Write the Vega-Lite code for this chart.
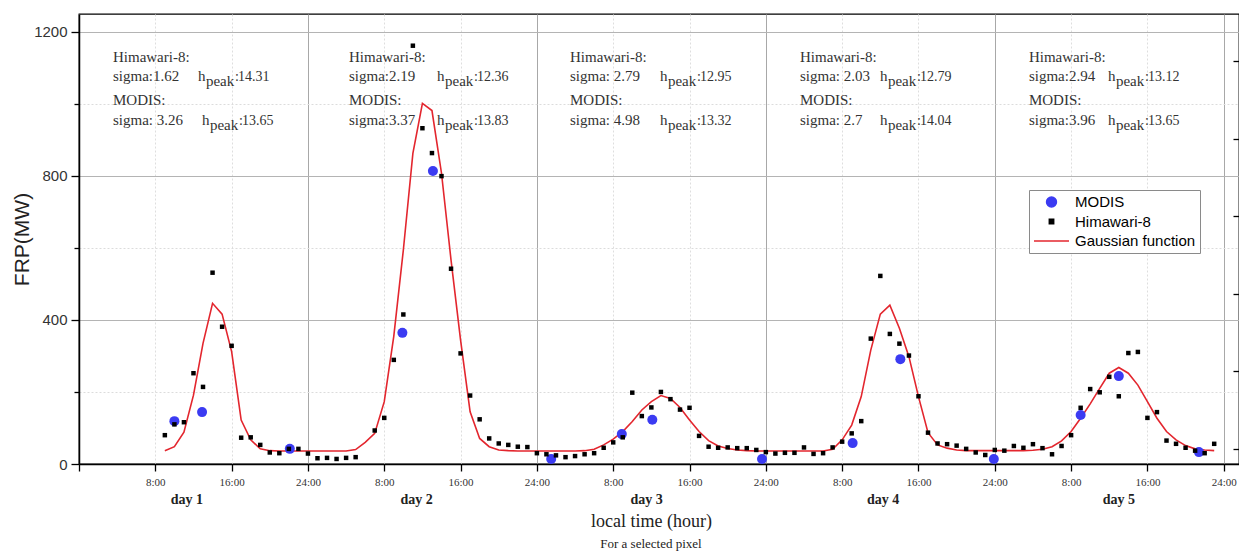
{
  "$schema": "https://vega.github.io/schema/vega-lite/v6.json",
  "width": 1160,
  "height": 450,
  "autosize": {"type": "none"},
  "padding": {"left": 79, "top": 14, "right": 0, "bottom": 90},
  "background": "white",
  "title": {"text": "For a selected pixel", "orient": "bottom", "anchor": "middle", "frame": "group", "font": "Liberation Serif", "fontSize": 13, "fontWeight": "normal", "color": "#222", "offset": 8, "dx": -8},
  "config": {
    "view": {"stroke": "#000", "strokeWidth": 1.3},
    "legend": {"title": null, "orient": "none", "legendX": 950, "legendY": 176, "symbolStrokeWidth": 1.4, "clipHeight": 16,
      "labelFont": "Liberation Sans", "labelFontSize": 15, "labelColor": "#000", "labelOffset": 5,
      "padding": 4, "rowPadding": 3.5, "strokeColor": "#8a8a8a", "fillColor": "#ffffff", "symbolOpacity": 1}
  },
  "resolve": {"axis": {"x": "independent", "y": "independent"}, "legend": {"color": "independent"}},
  "datasets": {
    "fit": [
      {"series":"Gaussian function","hour":9,"frp":37},{"series":"Gaussian function","hour":10,"frp":48},{"series":"Gaussian function","hour":11,"frp":88},{"series":"Gaussian function","hour":12,"frp":191},{"series":"Gaussian function","hour":13,"frp":335},{"series":"Gaussian function","hour":14,"frp":446},{"series":"Gaussian function","hour":15,"frp":416},{"series":"Gaussian function","hour":16,"frp":312},{"series":"Gaussian function","hour":17,"frp":122},{"series":"Gaussian function","hour":18,"frp":67},{"series":"Gaussian function","hour":19,"frp":42},{"series":"Gaussian function","hour":20,"frp":37},{"series":"Gaussian function","hour":21,"frp":36},{"series":"Gaussian function","hour":22,"frp":36},{"series":"Gaussian function","hour":23,"frp":36},{"series":"Gaussian function","hour":24,"frp":36},{"series":"Gaussian function","hour":25,"frp":36},{"series":"Gaussian function","hour":26,"frp":36},{"series":"Gaussian function","hour":27,"frp":36},{"series":"Gaussian function","hour":28,"frp":36},{"series":"Gaussian function","hour":29,"frp":40},{"series":"Gaussian function","hour":30,"frp":60},{"series":"Gaussian function","hour":31,"frp":85},{"series":"Gaussian function","hour":32,"frp":173},{"series":"Gaussian function","hour":33,"frp":355},{"series":"Gaussian function","hour":34,"frp":594},{"series":"Gaussian function","hour":35,"frp":862},{"series":"Gaussian function","hour":36,"frp":1001},{"series":"Gaussian function","hour":37,"frp":981},{"series":"Gaussian function","hour":38,"frp":807},{"series":"Gaussian function","hour":39,"frp":566},{"series":"Gaussian function","hour":40,"frp":344},{"series":"Gaussian function","hour":41,"frp":145},{"series":"Gaussian function","hour":42,"frp":71},{"series":"Gaussian function","hour":43,"frp":48},{"series":"Gaussian function","hour":44,"frp":39},{"series":"Gaussian function","hour":45,"frp":37},{"series":"Gaussian function","hour":46,"frp":36},{"series":"Gaussian function","hour":47,"frp":36},{"series":"Gaussian function","hour":48,"frp":36},{"series":"Gaussian function","hour":49,"frp":36},{"series":"Gaussian function","hour":50,"frp":36},{"series":"Gaussian function","hour":51,"frp":36},{"series":"Gaussian function","hour":52,"frp":36},{"series":"Gaussian function","hour":53,"frp":37},{"series":"Gaussian function","hour":54,"frp":41},{"series":"Gaussian function","hour":55,"frp":53},{"series":"Gaussian function","hour":56,"frp":69},{"series":"Gaussian function","hour":57,"frp":90},{"series":"Gaussian function","hour":58,"frp":118},{"series":"Gaussian function","hour":59,"frp":150},{"series":"Gaussian function","hour":60,"frp":173},{"series":"Gaussian function","hour":61,"frp":190},{"series":"Gaussian function","hour":62,"frp":182},{"series":"Gaussian function","hour":63,"frp":157},{"series":"Gaussian function","hour":64,"frp":122},{"series":"Gaussian function","hour":65,"frp":90},{"series":"Gaussian function","hour":66,"frp":65},{"series":"Gaussian function","hour":67,"frp":50},{"series":"Gaussian function","hour":68,"frp":43},{"series":"Gaussian function","hour":69,"frp":39},{"series":"Gaussian function","hour":70,"frp":37},{"series":"Gaussian function","hour":71,"frp":36},{"series":"Gaussian function","hour":72,"frp":36},{"series":"Gaussian function","hour":73,"frp":36},{"series":"Gaussian function","hour":74,"frp":36},{"series":"Gaussian function","hour":75,"frp":36},{"series":"Gaussian function","hour":76,"frp":36},{"series":"Gaussian function","hour":77,"frp":36},{"series":"Gaussian function","hour":78,"frp":36},{"series":"Gaussian function","hour":79,"frp":41},{"series":"Gaussian function","hour":80,"frp":67},{"series":"Gaussian function","hour":81,"frp":108},{"series":"Gaussian function","hour":82,"frp":187},{"series":"Gaussian function","hour":83,"frp":316},{"series":"Gaussian function","hour":84,"frp":416},{"series":"Gaussian function","hour":85,"frp":441},{"series":"Gaussian function","hour":86,"frp":377},{"series":"Gaussian function","hour":87,"frp":298},{"series":"Gaussian function","hour":88,"frp":187},{"series":"Gaussian function","hour":89,"frp":87},{"series":"Gaussian function","hour":90,"frp":53},{"series":"Gaussian function","hour":91,"frp":44},{"series":"Gaussian function","hour":92,"frp":39},{"series":"Gaussian function","hour":93,"frp":37},{"series":"Gaussian function","hour":94,"frp":37},{"series":"Gaussian function","hour":95,"frp":37},{"series":"Gaussian function","hour":96,"frp":37},{"series":"Gaussian function","hour":97,"frp":37},{"series":"Gaussian function","hour":98,"frp":37},{"series":"Gaussian function","hour":99,"frp":37},{"series":"Gaussian function","hour":100,"frp":38},{"series":"Gaussian function","hour":101,"frp":41},{"series":"Gaussian function","hour":102,"frp":48},{"series":"Gaussian function","hour":103,"frp":64},{"series":"Gaussian function","hour":104,"frp":90},{"series":"Gaussian function","hour":105,"frp":127},{"series":"Gaussian function","hour":106,"frp":167},{"series":"Gaussian function","hour":107,"frp":210},{"series":"Gaussian function","hour":108,"frp":252},{"series":"Gaussian function","hour":109,"frp":268},{"series":"Gaussian function","hour":110,"frp":252},{"series":"Gaussian function","hour":111,"frp":219},{"series":"Gaussian function","hour":112,"frp":173},{"series":"Gaussian function","hour":113,"frp":127},{"series":"Gaussian function","hour":114,"frp":90},{"series":"Gaussian function","hour":115,"frp":67},{"series":"Gaussian function","hour":116,"frp":51},{"series":"Gaussian function","hour":117,"frp":42},{"series":"Gaussian function","hour":118,"frp":39},{"series":"Gaussian function","hour":119,"frp":37}
    ],
    "obs": [
      {"series":"MODIS","hour":10.0,"frp":119},{"series":"MODIS","hour":12.9,"frp":144},{"series":"MODIS","hour":22.1,"frp":42},{"series":"MODIS","hour":33.9,"frp":364},{"series":"MODIS","hour":37.1,"frp":813},{"series":"MODIS","hour":49.5,"frp":14},{"series":"MODIS","hour":56.9,"frp":83},{"series":"MODIS","hour":60.1,"frp":123},{"series":"MODIS","hour":71.6,"frp":14},{"series":"MODIS","hour":81.1,"frp":58},{"series":"MODIS","hour":86.1,"frp":291},{"series":"MODIS","hour":95.9,"frp":14},{"series":"MODIS","hour":105.0,"frp":136},{"series":"MODIS","hour":109.0,"frp":244},{"series":"MODIS","hour":117.4,"frp":33},
      {"series":"Himawari-8","hour":9,"frp":80},{"series":"Himawari-8","hour":10,"frp":110},{"series":"Himawari-8","hour":11,"frp":116},{"series":"Himawari-8","hour":12,"frp":252},{"series":"Himawari-8","hour":13,"frp":214},{"series":"Himawari-8","hour":14,"frp":531},{"series":"Himawari-8","hour":15,"frp":381},{"series":"Himawari-8","hour":16,"frp":328},{"series":"Himawari-8","hour":17,"frp":73},{"series":"Himawari-8","hour":18,"frp":74},{"series":"Himawari-8","hour":19,"frp":53},{"series":"Himawari-8","hour":20,"frp":32},{"series":"Himawari-8","hour":21,"frp":30},{"series":"Himawari-8","hour":22,"frp":42},{"series":"Himawari-8","hour":23,"frp":42},{"series":"Himawari-8","hour":24,"frp":29},{"series":"Himawari-8","hour":25,"frp":16},{"series":"Himawari-8","hour":26,"frp":17},{"series":"Himawari-8","hour":27,"frp":14},{"series":"Himawari-8","hour":28,"frp":17},{"series":"Himawari-8","hour":29,"frp":19},
      {"series":"Himawari-8","hour":31,"frp":93},{"series":"Himawari-8","hour":32,"frp":128},{"series":"Himawari-8","hour":33,"frp":289},{"series":"Himawari-8","hour":34,"frp":415},{"series":"Himawari-8","hour":35,"frp":1161},{"series":"Himawari-8","hour":36,"frp":932},{"series":"Himawari-8","hour":37,"frp":863},{"series":"Himawari-8","hour":38,"frp":799},{"series":"Himawari-8","hour":39,"frp":542},{"series":"Himawari-8","hour":40,"frp":307},{"series":"Himawari-8","hour":41,"frp":190},{"series":"Himawari-8","hour":42,"frp":124},{"series":"Himawari-8","hour":43,"frp":71},{"series":"Himawari-8","hour":44,"frp":57},{"series":"Himawari-8","hour":45,"frp":53},{"series":"Himawari-8","hour":46,"frp":48},{"series":"Himawari-8","hour":47,"frp":47},{"series":"Himawari-8","hour":48,"frp":30},{"series":"Himawari-8","hour":49,"frp":27},{"series":"Himawari-8","hour":50,"frp":24},{"series":"Himawari-8","hour":51,"frp":19},{"series":"Himawari-8","hour":52,"frp":22},{"series":"Himawari-8","hour":53,"frp":27},{"series":"Himawari-8","hour":54,"frp":30},{"series":"Himawari-8","hour":55,"frp":45},{"series":"Himawari-8","hour":56,"frp":60},{"series":"Himawari-8","hour":57,"frp":74},{"series":"Himawari-8","hour":58,"frp":198},{"series":"Himawari-8","hour":59,"frp":133},{"series":"Himawari-8","hour":60,"frp":157},{"series":"Himawari-8","hour":61,"frp":200},{"series":"Himawari-8","hour":62,"frp":180},{"series":"Himawari-8","hour":63,"frp":151},{"series":"Himawari-8","hour":64,"frp":156},{"series":"Himawari-8","hour":65,"frp":78},{"series":"Himawari-8","hour":66,"frp":48},{"series":"Himawari-8","hour":67,"frp":45},{"series":"Himawari-8","hour":68,"frp":46},{"series":"Himawari-8","hour":69,"frp":44},{"series":"Himawari-8","hour":70,"frp":44},{"series":"Himawari-8","hour":71,"frp":39},{"series":"Himawari-8","hour":72,"frp":33},{"series":"Himawari-8","hour":73,"frp":29},{"series":"Himawari-8","hour":74,"frp":31},{"series":"Himawari-8","hour":75,"frp":31},{"series":"Himawari-8","hour":76,"frp":46},{"series":"Himawari-8","hour":77,"frp":28},{"series":"Himawari-8","hour":78,"frp":30},{"series":"Himawari-8","hour":79,"frp":46},{"series":"Himawari-8","hour":80,"frp":62},{"series":"Himawari-8","hour":81,"frp":85},{"series":"Himawari-8","hour":82,"frp":119},{"series":"Himawari-8","hour":83,"frp":348},{"series":"Himawari-8","hour":84,"frp":522},{"series":"Himawari-8","hour":85,"frp":361},{"series":"Himawari-8","hour":86,"frp":334},{"series":"Himawari-8","hour":87,"frp":301},{"series":"Himawari-8","hour":88,"frp":188},{"series":"Himawari-8","hour":89,"frp":87},{"series":"Himawari-8","hour":90,"frp":57},{"series":"Himawari-8","hour":91,"frp":55},{"series":"Himawari-8","hour":92,"frp":51},{"series":"Himawari-8","hour":93,"frp":42},{"series":"Himawari-8","hour":94,"frp":32},{"series":"Himawari-8","hour":95,"frp":25},{"series":"Himawari-8","hour":96,"frp":39},{"series":"Himawari-8","hour":97,"frp":37},{"series":"Himawari-8","hour":98,"frp":50},{"series":"Himawari-8","hour":99,"frp":45},{"series":"Himawari-8","hour":100,"frp":55},{"series":"Himawari-8","hour":101,"frp":44},{"series":"Himawari-8","hour":102,"frp":27},{"series":"Himawari-8","hour":103,"frp":50},{"series":"Himawari-8","hour":104,"frp":80},{"series":"Himawari-8","hour":105,"frp":156},{"series":"Himawari-8","hour":106,"frp":208},{"series":"Himawari-8","hour":107,"frp":199},{"series":"Himawari-8","hour":108,"frp":242},{"series":"Himawari-8","hour":109,"frp":188},{"series":"Himawari-8","hour":110,"frp":308},{"series":"Himawari-8","hour":111,"frp":311},{"series":"Himawari-8","hour":112,"frp":128},{"series":"Himawari-8","hour":113,"frp":144},{"series":"Himawari-8","hour":114,"frp":65},{"series":"Himawari-8","hour":115,"frp":56},{"series":"Himawari-8","hour":116,"frp":45},{"series":"Himawari-8","hour":117,"frp":37},{"series":"Himawari-8","hour":118,"frp":30},{"series":"Himawari-8","hour":119,"frp":56}
    ],
    "ann": [
      {"day":"day 1","xd":11.3,"x0":3.56,"xh1":12.47,"xh2":12.89,"hsig":"sigma:1.62","hpk":14.31,"msig":"sigma: 3.26","mpk":13.65},
      {"day":"day 2","xd":35.4,"x0":28.3,"xh1":37.53,"xh2":37.53,"hsig":"sigma:2.19","hpk":12.36,"msig":"sigma:3.37","mpk":13.83},
      {"day":"day 3","xd":59.5,"x0":51.47,"xh1":60.9,"xh2":60.9,"hsig":"sigma: 2.79","hpk":12.95,"msig":"sigma: 4.98","mpk":13.32},
      {"day":"day 4","xd":84.3,"x0":75.58,"xh1":83.96,"xh2":83.96,"hsig":"sigma: 2.03","hpk":12.79,"msig":"sigma: 2.7","mpk":14.04},
      {"day":"day 5","xd":109.0,"x0":99.58,"xh1":107.86,"xh2":107.86,"hsig":"sigma:2.94","hpk":13.12,"msig":"sigma:3.96","mpk":13.65}
    ]
  },
  "layer": [
    {
      "data": {"name": "fit"},
      "mark": {"type": "line", "strokeWidth": 1.6},
      "encoding": {
        "x": {"field": "hour", "type": "quantitative", "scale": {"domain": [0, 121.6], "nice": false, "zero": false},
          "axis": {"orient": "bottom", "values": [0,8,16,24,32,40,48,56,64,72,80,88,96,104,112,120],
            "labelExpr": "datum.value === 0 ? '' : (datum.value % 24 === 0 ? '24:00' : (datum.value % 24) + ':00')",
            "tickSize": 7, "tickColor": "#000", "tickWidth": 1.3, "domainColor": "#000", "domainWidth": 1.5,
            "labelFont": "Liberation Serif", "labelFontSize": 11, "labelColor": "#333", "labelPadding": 5, "labelFlush": false, "labelOverlap": false,
            "grid": true,
            "gridColor": {"condition": {"test": "datum.value % 24 === 0", "value": "#a8a8a8"}, "value": "#dedede"},
            "gridDash": {"condition": {"test": "datum.value % 24 === 0", "value": []}, "value": [2, 2]},
            "title": "local time (hour)", "titleFont": "Liberation Serif", "titleFontSize": 18, "titleFontWeight": "normal", "titleColor": "#222", "titlePadding": 25, "titleX": 572}},
        "y": {"field": "frp", "type": "quantitative", "scale": {"domain": [0, 1249], "nice": false, "zero": false},
          "axis": {"orient": "left", "values": [0,200,400,600,800,1000,1200], "format": "d",
            "labelExpr": "datum.value % 400 === 0 ? datum.label : ''",
            "tickSize": {"condition": {"test": "datum.value % 400 === 0", "value": 8}, "value": 5},
            "tickColor": "#000", "tickWidth": 1.3, "domainColor": "#000", "domainWidth": 1.5,
            "labelFont": "Liberation Sans", "labelFontSize": 15, "labelColor": "#333", "labelPadding": 4,
            "grid": true,
            "gridColor": {"condition": {"test": "datum.value % 400 === 0", "value": "#b4b4b4"}, "value": "#dcdcdc"},
            "gridDash": {"condition": {"test": "datum.value % 400 === 0", "value": []}, "value": [2, 2]},
            "title": "FRP(MW)", "titleFont": "Liberation Sans", "titleFontSize": 21, "titleFontWeight": "normal", "titleColor": "#222", "titlePadding": 1}},
        "color": {"field": "series", "type": "nominal",
          "scale": {"domain": ["MODIS", "Himawari-8", "Gaussian function"], "range": ["#3b3bf2", "#000000", "#e3262e"]},
          "legend": null}
      }
    },
    {
      "data": {"name": "obs"},
      "mark": {"type": "point", "filled": true, "opacity": 1, "strokeWidth": 0},
      "encoding": {
        "x": {"field": "hour", "type": "quantitative", "axis": null},
        "y": {"field": "frp", "type": "quantitative",
          "axis": {"orient": "right", "values": [42, 257, 472, 688, 903, 1118], "labels": false, "grid": false, "domain": false,
            "tickSize": -6, "tickColor": "#000", "tickWidth": 1.3, "title": null}},
        "fill": {"field": "series", "type": "nominal",
          "scale": {"domain": ["MODIS", "Himawari-8", "Gaussian function"], "range": ["#3b3bf2", "#000000", "#e3262e"]},
          "legend": {"title": null}},
        "stroke": {"field": "series", "type": "nominal",
          "scale": {"domain": ["MODIS", "Himawari-8", "Gaussian function"], "range": ["#3b3bf2", "#000000", "#e3262e"]},
          "legend": {"title": null}},
        "shape": {"field": "series", "type": "nominal",
          "scale": {"domain": ["MODIS", "Himawari-8", "Gaussian function"], "range": ["circle", "square", "stroke"]},
          "legend": {"title": null}},
        "size": {"field": "series", "type": "nominal",
          "scale": {"type": "ordinal", "domain": ["MODIS", "Himawari-8", "Gaussian function"], "range": [100, 20, 1225]},
          "legend": {"title": null}}
      }
    },
    {
      "data": {"name": "ann"},
      "mark": {"type": "text", "align": "center", "baseline": "middle", "font": "Liberation Serif", "fontSize": 14, "fontWeight": "bold", "color": "#222"},
      "encoding": {"x": {"field": "xd", "type": "quantitative", "axis": null}, "y": {"datum": -100, "type": "quantitative", "axis": null}, "text": {"field": "day"}}
    },
    {
      "data": {"name": "ann"},
      "mark": {"type": "text", "align": "left", "baseline": "alphabetic", "font": "Liberation Serif", "fontSize": 15, "color": "#333"},
      "encoding": {"x": {"field": "x0", "type": "quantitative", "axis": null}, "y": {"datum": 1116, "type": "quantitative", "axis": null}, "text": {"value": "Himawari-8:"}}
    },
    {
      "data": {"name": "ann"},
      "mark": {"type": "text", "align": "left", "baseline": "alphabetic", "font": "Liberation Serif", "fontSize": 15, "color": "#333"},
      "encoding": {"x": {"field": "x0", "type": "quantitative", "axis": null}, "y": {"datum": 1063, "type": "quantitative", "axis": null}, "text": {"field": "hsig"}}
    },
    {
      "data": {"name": "ann"},
      "mark": {"type": "text", "align": "left", "baseline": "alphabetic", "font": "Liberation Serif", "fontSize": 15, "color": "#333"},
      "encoding": {"x": {"field": "xh1", "type": "quantitative", "axis": null}, "y": {"datum": 1063, "type": "quantitative", "axis": null}, "text": {"value": "h"}}
    },
    {
      "data": {"name": "ann"},
      "mark": {"type": "text", "align": "left", "baseline": "alphabetic", "font": "Liberation Serif", "fontSize": 15, "color": "#333", "dx": 8, "dy": 5},
      "encoding": {"x": {"field": "xh1", "type": "quantitative", "axis": null}, "y": {"datum": 1063, "type": "quantitative", "axis": null}, "text": {"value": "peak"}}
    },
    {
      "data": {"name": "ann"},
      "mark": {"type": "text", "align": "left", "baseline": "alphabetic", "font": "Liberation Serif", "fontSize": 14, "color": "#333", "dx": 37},
      "encoding": {"x": {"field": "xh1", "type": "quantitative", "axis": null}, "y": {"datum": 1063, "type": "quantitative", "axis": null}, "text": {"value": ":"}}
    },
    {
      "data": {"name": "ann"},
      "mark": {"type": "text", "align": "left", "baseline": "alphabetic", "font": "Liberation Serif", "fontSize": 14, "color": "#333", "dx": 40},
      "encoding": {"x": {"field": "xh1", "type": "quantitative", "axis": null}, "y": {"datum": 1063, "type": "quantitative", "axis": null}, "text": {"field": "hpk", "type": "quantitative", "format": ".2f"}}
    },
    {
      "data": {"name": "ann"},
      "mark": {"type": "text", "align": "left", "baseline": "alphabetic", "font": "Liberation Serif", "fontSize": 15, "color": "#333"},
      "encoding": {"x": {"field": "x0", "type": "quantitative", "axis": null}, "y": {"datum": 996, "type": "quantitative", "axis": null}, "text": {"value": "MODIS:"}}
    },
    {
      "data": {"name": "ann"},
      "mark": {"type": "text", "align": "left", "baseline": "alphabetic", "font": "Liberation Serif", "fontSize": 15, "color": "#333"},
      "encoding": {"x": {"field": "x0", "type": "quantitative", "axis": null}, "y": {"datum": 941, "type": "quantitative", "axis": null}, "text": {"field": "msig"}}
    },
    {
      "data": {"name": "ann"},
      "mark": {"type": "text", "align": "left", "baseline": "alphabetic", "font": "Liberation Serif", "fontSize": 15, "color": "#333"},
      "encoding": {"x": {"field": "xh2", "type": "quantitative", "axis": null}, "y": {"datum": 941, "type": "quantitative", "axis": null}, "text": {"value": "h"}}
    },
    {
      "data": {"name": "ann"},
      "mark": {"type": "text", "align": "left", "baseline": "alphabetic", "font": "Liberation Serif", "fontSize": 15, "color": "#333", "dx": 8, "dy": 5},
      "encoding": {"x": {"field": "xh2", "type": "quantitative", "axis": null}, "y": {"datum": 941, "type": "quantitative", "axis": null}, "text": {"value": "peak"}}
    },
    {
      "data": {"name": "ann"},
      "mark": {"type": "text", "align": "left", "baseline": "alphabetic", "font": "Liberation Serif", "fontSize": 14, "color": "#333", "dx": 37},
      "encoding": {"x": {"field": "xh2", "type": "quantitative", "axis": null}, "y": {"datum": 941, "type": "quantitative", "axis": null}, "text": {"value": ":"}}
    },
    {
      "data": {"name": "ann"},
      "mark": {"type": "text", "align": "left", "baseline": "alphabetic", "font": "Liberation Serif", "fontSize": 14, "color": "#333", "dx": 40},
      "encoding": {"x": {"field": "xh2", "type": "quantitative", "axis": null}, "y": {"datum": 941, "type": "quantitative", "axis": null}, "text": {"field": "mpk", "type": "quantitative", "format": ".2f"}}
    }
  ]
}
